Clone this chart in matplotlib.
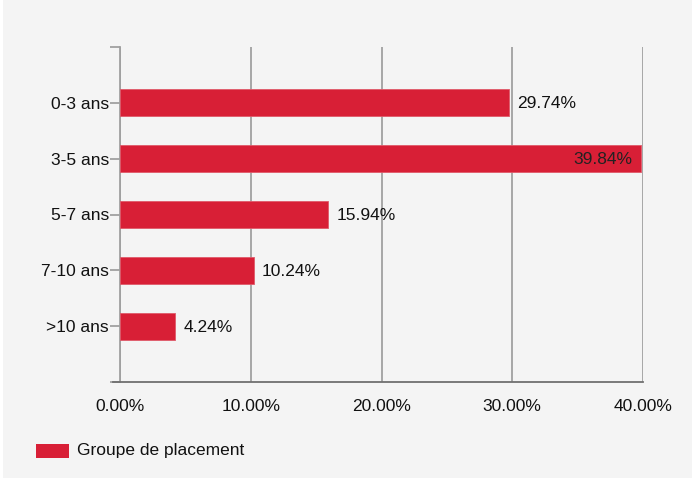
import numpy as np
import matplotlib
matplotlib.use("Agg")
import matplotlib.pyplot as plt
from matplotlib.patches import Rectangle

# ── Data ──────────────────────────────────────────────
categories = ['0-3 ans', '3-5 ans', '5-7 ans', '7-10 ans', '>10 ans']
values = [29.74, 39.84, 15.94, 10.24, 4.24]
xticks = [0, 10, 20, 30, 40]
series_name = 'Groupe de placement'

# ── Style ─────────────────────────────────────────────
plt.rcParams.update({'font.family': ['Liberation Sans', 'DejaVu Sans'], 'font.size': 12.5})
RED = '#d81f36'
BG = '#f4f4f4'
GRID = '#a0a0a0'

fig = plt.figure(figsize=(6.95, 4.82), dpi=100)
fig.patch.set_facecolor('white')
fig.patches.append(Rectangle((3 / 695, 4 / 482), 689 / 695, 478 / 482,
                             transform=fig.transFigure, facecolor=BG,
                             edgecolor='none', zorder=-10))

ax = fig.add_axes([120 / 695, 1 - 382 / 482, 523 / 695, 335 / 482])
ax.set_facecolor(BG)

y = np.arange(len(categories))
ax.barh(y, values, height=0.48, color=RED, edgecolor='#e05a6a', linewidth=0.6, zorder=3)

for yi, v in zip(y, values):
    txt = f'{v:.2f}%'
    if v > 38:
        ax.text(v - 0.65, yi + 0.02, txt, ha='right', va='center', color='#222222', zorder=4)
    else:
        ax.text(v + 0.6, yi + 0.02, txt, ha='left', va='center', color='#111111', zorder=4)

ax.set_xlim(0, 40)
ax.set_ylim(5, -1)
ax.set_xticks(xticks)
ax.set_xticklabels([f'{t:.2f}%' for t in xticks])
ax.set_yticks([-1] + list(y) + [5])
ax.set_yticklabels([''] + categories + [''])
ax.xaxis.grid(True, color=GRID, lw=1.3, zorder=0)
ax.tick_params(axis='x', length=0, pad=12, labelcolor='#111111')
ax.tick_params(axis='y', length=7, width=1.3, color=GRID, pad=1, labelcolor='#111111')

for s in ['top', 'right']:
    ax.spines[s].set_visible(False)
ax.spines['left'].set_color(GRID)
ax.spines['left'].set_linewidth(1.3)
ax.spines['bottom'].set_color('#707070')
ax.spines['bottom'].set_linewidth(1.3)
ax.spines['bottom'].set_bounds(-0.55, 40)
ax.spines['bottom'].set_clip_on(False)

# legend
fig.patches.append(Rectangle((36 / 695, 1 - 458 / 482), 33 / 695, 14 / 482,
                             transform=fig.transFigure, facecolor=RED, edgecolor='none'))
fig.text(77 / 695, 1 - 451 / 482, series_name, ha='left', va='center', color='#111111')

fig.savefig('out.png', dpi=100, facecolor=fig.get_facecolor())
